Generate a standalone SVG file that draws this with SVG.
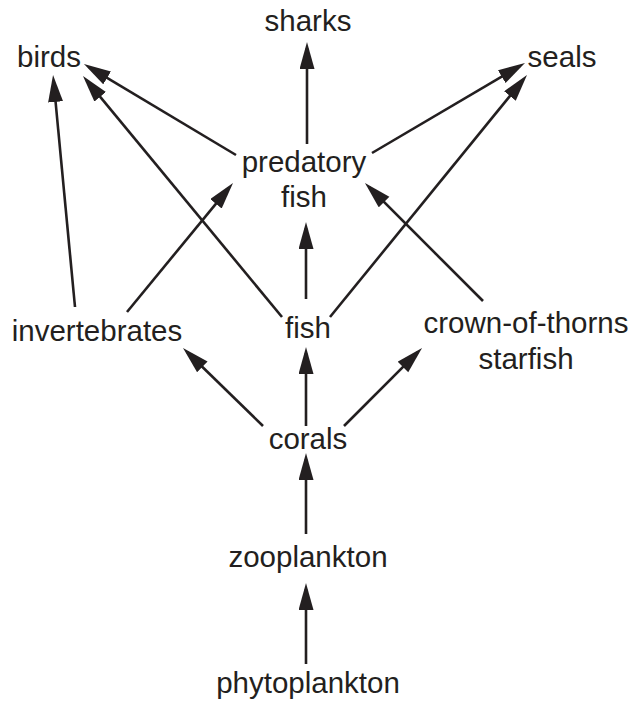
<svg xmlns="http://www.w3.org/2000/svg" width="630" height="706" viewBox="0 0 630 706">
<style>
text { font-family: "Liberation Sans", Arial, sans-serif; font-size: 29.5px; fill: #231f20; text-anchor: middle; }
.c line { stroke: #231f20; stroke-width: 2.6; marker-end: url(#ah); }
</style>
<defs>
<marker id="ah" markerUnits="userSpaceOnUse" markerWidth="30" markerHeight="16" refX="21" refY="7.5" orient="auto">
<path d="M0,0 L27,7.5 L0,15 z" fill="#231f20"/>
</marker>
</defs>
<rect width="630" height="706" fill="#ffffff"/>
<g id="connectors" class="c">
<line x1="307" y1="144" x2="307" y2="48"/>
<line x1="236" y1="155" x2="89.1" y2="67.1"/>
<line x1="282" y1="317" x2="86.8" y2="80.6"/>
<line x1="75" y1="307" x2="53.6" y2="81"/>
<line x1="127" y1="312" x2="229.2" y2="187.6"/>
<line x1="306" y1="299" x2="306" y2="228"/>
<line x1="372" y1="153" x2="519.8" y2="66"/>
<line x1="330" y1="317" x2="523.2" y2="79.7"/>
<line x1="483" y1="301" x2="369.2" y2="187.2"/>
<line x1="263" y1="426" x2="187.3" y2="352.2"/>
<line x1="306" y1="426" x2="306" y2="353"/>
<line x1="344" y1="426" x2="417.8" y2="352.2"/>
<line x1="306" y1="534" x2="306" y2="459"/>
<line x1="306" y1="664" x2="306" y2="589"/>
</g>
<g id="sharks"><text x="308" y="31">sharks</text></g>
<g id="birds"><text x="49" y="67">birds</text></g>
<g id="seals"><text x="562" y="67">seals</text></g>
<g id="predatory-fish"><text x="304" y="172">predatory</text><text x="304" y="207">fish</text></g>
<g id="invertebrates"><text x="97" y="341">invertebrates</text></g>
<g id="fish"><text x="308" y="338">fish</text></g>
<g id="crown-of-thorns-starfish"><text x="526" y="333">crown-of-thorns</text><text x="526" y="369">starfish</text></g>
<g id="corals"><text x="308" y="449">corals</text></g>
<g id="zooplankton"><text x="308" y="567">zooplankton</text></g>
<g id="phytoplankton"><text x="308" y="693">phytoplankton</text></g>
</svg>
